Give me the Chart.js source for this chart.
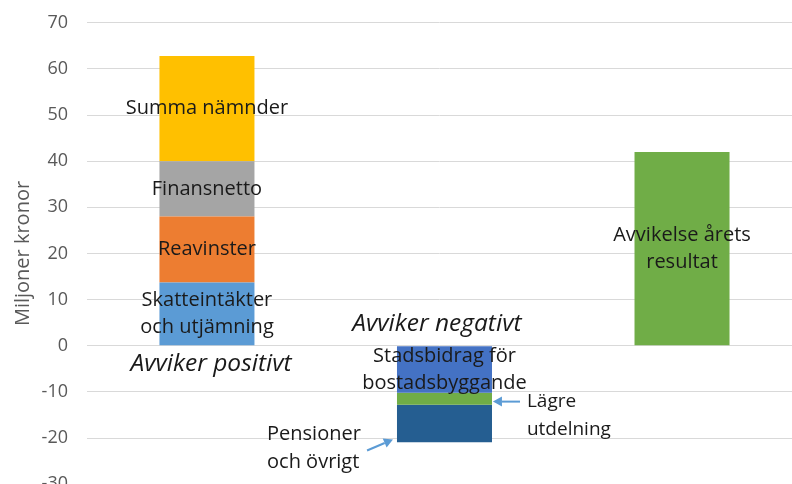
<!DOCTYPE html>
<html><head><meta charset="utf-8">
<script src="https://cdn.jsdelivr.net/npm/chart.js@4"></script>
<style>html,body{margin:0;padding:0;background:#fff;overflow:hidden}
#wrap{position:relative;width:792px;height:521px;margin-top:-7px}</style></head>
<body><div id="wrap"><canvas id="c"></canvas></div>
<script>
// ---- data ----
const categories = ['Avviker positivt', 'Avviker negativt', 'Avvikelse årets resultat'];
const segmentNames = ['Skatteintäkter och utjämning', 'Reavinster', 'Finansnetto', 'Summa nämnder',
  'Stadsbidrag för bostadsbyggande', 'Lägre utdelning', 'Pensioner och övrigt', 'Avvikelse årets resultat'];
const segmentCategory = [0, 0, 0, 0, 1, 1, 1, 2];
const segmentValues = [13.7, 14.3, 12.0, 22.8, -10.2, -2.6, -8.1, 42.0];
const segmentLabelLines = [['Skatteintäkter', 'och utjämning'], ['Reavinster'], ['Finansnetto'], ['Summa nämnder'],
  ['Stadsbidrag för', 'bostadsbyggande'], null, null, ['Avvikelse årets', 'resultat']];
const yTickMin = -30, yTickMax = 70, yTickStep = 10;
const axisTitle = 'Miljoner kronor';

// ---- style ----
const segmentColors = ['#5B9BD5', '#ED7D31', '#A5A5A5', '#FFC000', '#4472C4', '#70AD47', '#255E91', '#70AD47'];
const FONT = '"Open Sans", sans-serif';

// annotations placed in data units (x = category index, y = value)
const textNotes = [
  { lines: ['Avviker positivt'], x: 0.017, y: -4.0, align: 'center', italic: true, size: 24.5 },
  { lines: ['Avviker negativt'], x: 0.968, y: 4.7, align: 'center', italic: true, size: 24.5 },
  { lines: ['Lägre', 'utdelning'], x: 1.347, y: -12.0, align: 'left', size: 19 },
  { lines: ['Pensioner', 'och övrigt'], x: 0.253, y: -19.2, align: 'left', size: 20 }
];
const arrows = [
  { from: [1.318, -12.1], to: [1.204, -12.1] },
  { from: [0.674, -22.7], to: [0.783, -20.3] }
];

const datasets = segmentNames.map((name, i) => ({
  label: name,
  data: [{ x: segmentCategory[i], y: segmentValues[i] }],
  backgroundColor: segmentColors[i],
  borderWidth: 0,
  barPercentage: 0.5,
  categoryPercentage: 0.8
}));

const labelPlugin = {
  id: 'labels',
  afterDatasetsDraw(chart) {
    const ctx = chart.ctx, xs = chart.scales.x, ys = chart.scales.y;
    ctx.save();
    ctx.fillStyle = '#1a1a1a';
    ctx.textBaseline = 'middle';
    const lh = 27;
    chart.data.datasets.forEach((ds, i) => {
      const lines = segmentLabelLines[i];
      if (!lines) return;
      const el = chart.getDatasetMeta(i).data[0];
      const cy = (el.y + el.base) / 2;
      ctx.font = '20px ' + FONT;
      ctx.textAlign = 'center';
      lines.forEach((t, k) => ctx.fillText(t, el.x, cy + (k - (lines.length - 1) / 2) * lh));
    });
    textNotes.forEach(n => {
      ctx.font = (n.italic ? 'italic ' : '') + n.size + 'px ' + FONT;
      ctx.textAlign = n.align;
      const px = xs.getPixelForValue(n.x), py = ys.getPixelForValue(n.y);
      n.lines.forEach((t, k) => ctx.fillText(t, px, py + k * 28));
    });
    ctx.strokeStyle = '#5B9BD5';
    ctx.fillStyle = '#5B9BD5';
    ctx.lineWidth = 2;
    arrows.forEach(a => {
      const x1 = xs.getPixelForValue(a.from[0]), y1 = ys.getPixelForValue(a.from[1]);
      const x2 = xs.getPixelForValue(a.to[0]), y2 = ys.getPixelForValue(a.to[1]);
      const ang = Math.atan2(y2 - y1, x2 - x1);
      const hl = 9, hw = 5;
      const bx = x2 - hl * Math.cos(ang), by = y2 - hl * Math.sin(ang);
      ctx.beginPath(); ctx.moveTo(x1, y1); ctx.lineTo(bx, by); ctx.stroke();
      ctx.beginPath();
      ctx.moveTo(x2, y2);
      ctx.lineTo(bx + hw * Math.sin(ang), by - hw * Math.cos(ang));
      ctx.lineTo(bx - hw * Math.sin(ang), by + hw * Math.cos(ang));
      ctx.closePath(); ctx.fill();
    });
    ctx.restore();
  }
};

new Chart(document.getElementById('c'), {
  type: 'bar',
  data: { datasets },
  options: {
    responsive: true,
    maintainAspectRatio: false,
    animation: false,
    layout: { padding: { top: 0, left: 0, right: 0, bottom: 0 } },
    plugins: { legend: { display: false }, tooltip: { enabled: false } },
    scales: {
      x: {
        type: 'linear', display: false, stacked: true, offset: false, min: -0.505, max: 2.463,
        afterBuildTicks: s => { s.ticks = categories.map((c, i) => ({ value: i })); }
      },
      y: {
        stacked: true, min: yTickMin, max: yTickMax,
        ticks: { stepSize: yTickStep, color: '#595959', font: { family: FONT, size: 18 }, padding: 19 },
        grid: { color: '#d9d9d9', drawTicks: false },
        border: { display: false },
        title: { display: true, text: axisTitle, color: '#595959', font: { family: FONT, size: 20 }, padding: { top: 11, bottom: 0 } },
        afterFit: s => { s.width = 87; }
      }
    }
  },
  plugins: [labelPlugin]
});
</script></body></html>
